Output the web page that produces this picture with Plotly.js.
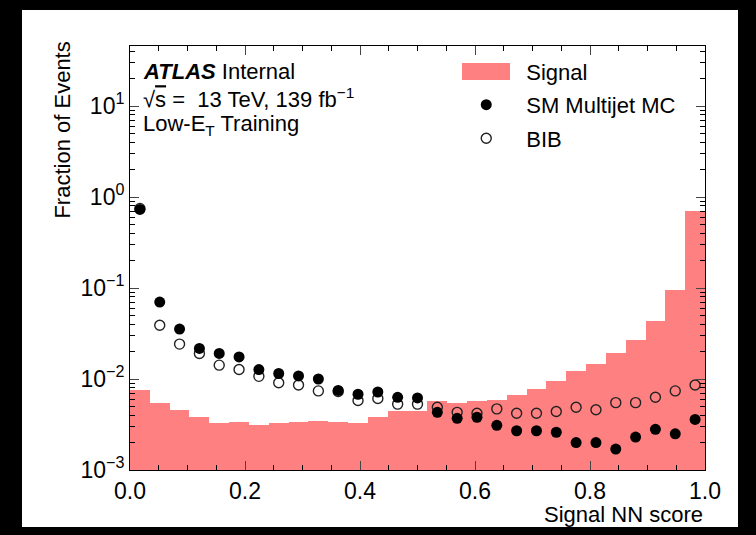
<!DOCTYPE html>
<html><head><meta charset="utf-8">
<script src="https://cdn.plot.ly/plotly-3.0.1.min.js"></script>
<style>
html,body{margin:0;padding:0;background:#000;width:756px;height:535px;overflow:hidden}
#plot{position:absolute;left:22px;top:10px;width:716px;height:517px;background:#fff}
</style>
</head><body><div id="plot"></div>
<script>
// bin centres of the 29 NN-score bins (width 1/29)
const binCenters = [0.01724,0.05172,0.08621,0.12069,0.15517,0.18966,0.22414,0.25862,0.29310,0.32759,
  0.36207,0.39655,0.43103,0.46552,0.50000,0.53448,0.56897,0.60345,0.63793,0.67241,
  0.70690,0.74138,0.77586,0.81034,0.84483,0.87931,0.91379,0.94828,0.98276];
const binWidth = 0.034483;

const signal = [0.0075,0.0054,0.0045,0.0037,0.0032,0.0033,0.0030,0.0032,0.0033,0.0034,
  0.0033,0.0032,0.0037,0.0044,0.0043,0.0056,0.0053,0.0056,0.0058,0.0065,
  0.0077,0.0095,0.0120,0.0145,0.0194,0.0268,0.0437,0.0953,0.695];

const multijet = [0.73,0.070,0.0354,0.0217,0.0191,0.0175,0.0127,0.0115,0.0108,0.0100,
  0.0075,0.0068,0.0072,0.0063,0.0062,0.0043,0.0037,0.0038,0.0031,0.0027,
  0.0027,0.0026,0.0020,0.0020,0.0017,0.0023,0.0028,0.0025,0.0036];

const bib = [0.75,0.039,0.0242,0.0191,0.0142,0.0127,0.0107,0.0091,0.0086,0.0074,
  0.0073,0.0058,0.0061,0.0053,0.0053,0.0049,0.0043,0.0042,0.0047,0.0042,
  0.0042,0.0044,0.0049,0.0046,0.0055,0.0055,0.0063,0.0074,0.0086];

const xTicks = [0,0.2,0.4,0.6,0.8,1.0];
const yTicks = [0.001,0.01,0.1,1,10];
const yTickText = ['10<sup>\u22123</sup>','10<sup>\u22122</sup>','10<sup>\u22121</sup>','10<sup>0</sup>','10<sup>1</sup>'];
const yMinorTicks = [0.002,0.003,0.004,0.005,0.006,0.007,0.008,0.009,
  0.02,0.03,0.04,0.05,0.06,0.07,0.08,0.09,
  0.2,0.3,0.4,0.5,0.6,0.7,0.8,0.9,
  2,3,4,5,6,7,8,9,20,30,40];

const FONT = 'Liberation Sans, Arial, Helvetica, sans-serif';
const RED = '#ff8080';

const traces = [
  {type:'bar', x:binCenters, y:signal, width:binWidth, name:'Signal',
   base:0.0001,
   marker:{color:RED, line:{width:0}}, legendrank:1, legendgroup:'a'},
  {type:'scatter', mode:'markers', x:binCenters, y:bib, name:'BIB',
   marker:{symbol:'circle-open', size:10, color:'#222', line:{width:1.4}}, legendrank:3, legendgroup:'c'},
  {type:'scatter', mode:'markers', x:binCenters, y:multijet, name:'SM Multijet MC',
   marker:{symbol:'circle', size:11, color:'#000'}, legendrank:2, legendgroup:'b'}
];

const layout = {
  width:716, height:517,
  margin:{l:108, r:33, t:36, b:57},
  paper_bgcolor:'#fff', plot_bgcolor:'#fff',
  font:{family:FONT, size:22, color:'#000'},
  showlegend:true,
  bargap:0,
  legend:{x:0.55, y:0.99, xanchor:'left', yanchor:'top', bgcolor:'rgba(0,0,0,0)',
          font:{size:22}, traceorder:'grouped', tracegroupgap:2, itemwidth:70},
  xaxis:{range:[0,1], tickvals:xTicks, tickformat:'.1f', ticks:'inside', ticklen:9,
         showline:true, linecolor:'#000', linewidth:1, mirror:'ticks', showgrid:false, zeroline:false,
         tickfont:{size:23},
         minor:{dtick:0.05, ticks:'inside', ticklen:5, tickcolor:'#000', showgrid:false}},
  yaxis:{type:'log', range:[-3,1.66], tickvals:yTicks, ticktext:yTickText, ticks:'inside', ticklen:9,
         showline:true, linecolor:'#000', linewidth:1, mirror:'ticks', showgrid:false, zeroline:false,
         tickfont:{size:23},
         minor:{tickmode:'array', tickvals:yMinorTicks, ticks:'inside', ticklen:5, tickcolor:'#000', showgrid:false}},
  shapes:[
    {type:'rect', xref:'paper', yref:'paper', x0:0.5774, x1:0.6609, y0:0.9198, y1:0.9599,
     fillcolor:RED, line:{width:0}, layer:'above'}
  ],
  annotations:[
    {text:'Fraction of Events', textangle:-90, xref:'paper', yref:'paper', x:-0.1165, y:1.014,
     xanchor:'center', yanchor:'top', showarrow:false, font:{size:22}},
    {text:'Signal NN score', xref:'paper', yref:'paper', x:1, y:-0.105, xanchor:'right', yanchor:'middle',
     showarrow:false, font:{size:22}},
    {text:'<b><i>ATLAS</i></b> Internal', xref:'paper', yref:'paper', x:0.019, y:0.9387,
     xanchor:'left', yanchor:'middle', showarrow:false, font:{size:22}},
    {text:'\u221A<span style="text-decoration:overline">s</span> =  13 TeV, 139 fb<sup>\u22121</sup>', xref:'paper', yref:'paper', x:0.019, y:0.877,
     xanchor:'left', yanchor:'middle', showarrow:false, font:{size:22}},
    {text:'Low-E<sub>T</sub> Training', xref:'paper', yref:'paper', x:0.019, y:0.814,
     xanchor:'left', yanchor:'middle', showarrow:false, font:{size:22}}
  ]
};

Plotly.newPlot('plot', traces, layout, {displayModeBar:false, staticPlot:true});
</script>
</body></html>
